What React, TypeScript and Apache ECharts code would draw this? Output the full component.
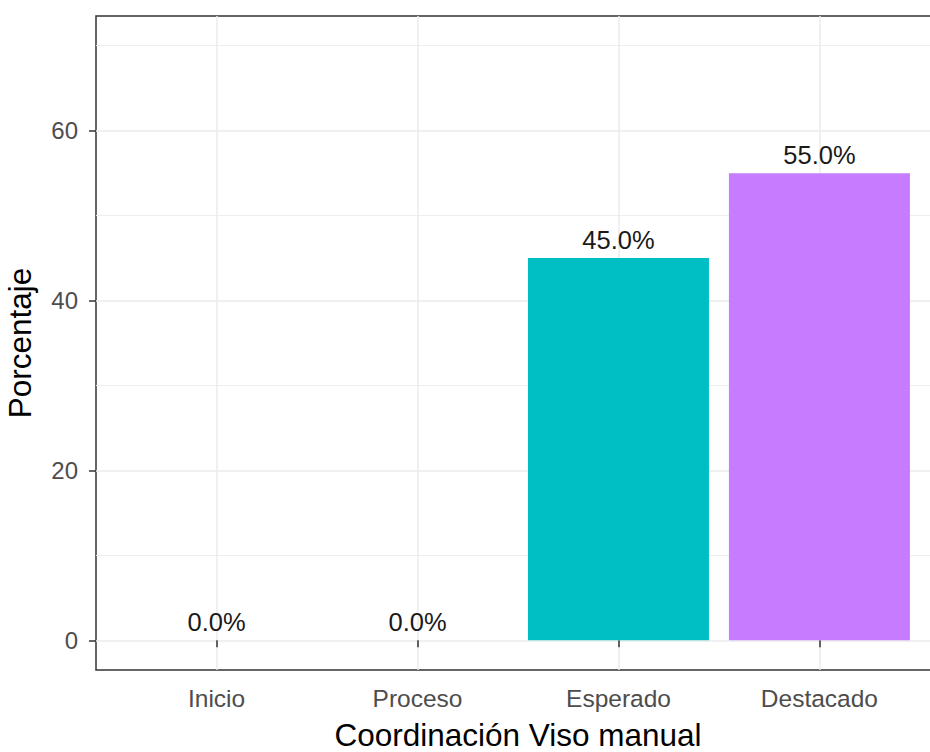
import React, { useEffect, useRef } from "react";
import * as echarts from "echarts";

const categories = ["Inicio", "Proceso", "Esperado", "Destacado"];
const categoryPositions = [1, 2, 3, 4];
const percentages = [0, 0, 45, 55];
const barColors = ["#F8766D", "#7CAE00", "#00BFC4", "#C77CFF"];
const yMajorTicks = [0, 20, 40, 60];
const yMinorTicks = [10, 30, 50, 70];
const xTitle = "Coordinación Viso manual";
const yTitle = "Porcentaje";

const FONT = "'Liberation Sans', Arial, sans-serif";

export default function App() {
  const ref = useRef<HTMLDivElement>(null);

  useEffect(() => {
    if (!ref.current) return;
    const chart = echarts.init(ref.current, null, { renderer: "svg" });

    const gridLineData: any[] = [
      ...yMinorTicks.map((v) => ({ yAxis: v, lineStyle: { type: "solid", width: 1, color: "#EEEEEE" } })),
      ...yMajorTicks.map((v) => ({ yAxis: v, lineStyle: { type: "solid", width: 1.5, color: "#EBEBEB" } })),
      ...categoryPositions.map((v) => ({ xAxis: v, lineStyle: { type: "solid", width: 1.5, color: "#EBEBEB" } })),
    ];

    chart.setOption({
      animation: false,
      backgroundColor: "#FFFFFF",
      textStyle: { fontFamily: FONT },
      grid: {
        left: 96,
        top: 16,
        right: -10,
        bottom: 82,
        show: true,
        borderColor: "#333333",
        borderWidth: 1.5,
        backgroundColor: "transparent",
        containLabel: false,
        outerBoundsMode: "none",
      },
      xAxis: {
        type: "value",
        min: 0.4,
        max: 4.6,
        name: xTitle,
        nameLocation: "middle",
        nameGap: 49,
        nameTextStyle: { fontSize: 31.5, color: "#000000", fontFamily: FONT },
        axisLine: { show: false },
        axisTick: {
          show: true,
          length: 7,
          customValues: categoryPositions,
          lineStyle: { color: "#333333", width: 1.5 },
        },
        axisLabel: {
          show: true,
          customValues: categoryPositions,
          margin: 16,
          fontSize: 24.5,
          color: "#4D4D4D",
          fontFamily: FONT,
          formatter: (v: number) => categories[Math.round(v) - 1] ?? "",
        },
        splitLine: { show: false },
      },
      yAxis: {
        type: "value",
        min: -3.5,
        max: 73.5,
        name: yTitle,
        nameLocation: "middle",
        nameGap: 60,
        nameTextStyle: { fontSize: 31.5, color: "#000000", fontFamily: FONT },
        axisLine: { show: false },
        axisTick: {
          show: true,
          length: 7,
          customValues: yMajorTicks,
          lineStyle: { color: "#333333", width: 1.5 },
        },
        axisLabel: {
          show: true,
          customValues: yMajorTicks,
          margin: 18,
          fontSize: 24,
          color: "#4D4D4D",
          fontFamily: FONT,
        },
        splitLine: { show: false },
      },
      series: [
        {
          type: "line",
          z: 0,
          silent: true,
          symbol: "none",
          data: [[1, 0]],
          lineStyle: { opacity: 0 },
          markLine: {
            z: 0,
            silent: true,
            symbol: ["none", "none"],
            label: { show: false },
            emphasis: { disabled: true },
            lineStyle: { type: "solid" },
            data: gridLineData,
          },
        },
        {
          type: "bar",
          z: 3,
          barWidth: 181,
          data: categoryPositions.map((x, i) => ({
            value: [x, percentages[i]],
            itemStyle: { color: barColors[i] },
          })),
          label: {
            show: true,
            position: "top",
            distance: 5,
            fontSize: 25.5,
            color: "#1A1A1A",
            fontFamily: FONT,
            formatter: (p: any) => `${Number(p.value[1]).toFixed(1)}%`,
          },
        },
      ],
    });

    return () => chart.dispose();
  }, []);

  return (
    <div
      ref={ref}
      style={{ position: "absolute", left: 0, top: 0, width: 930, height: 752, overflow: "hidden" }}
    />
  );
}
